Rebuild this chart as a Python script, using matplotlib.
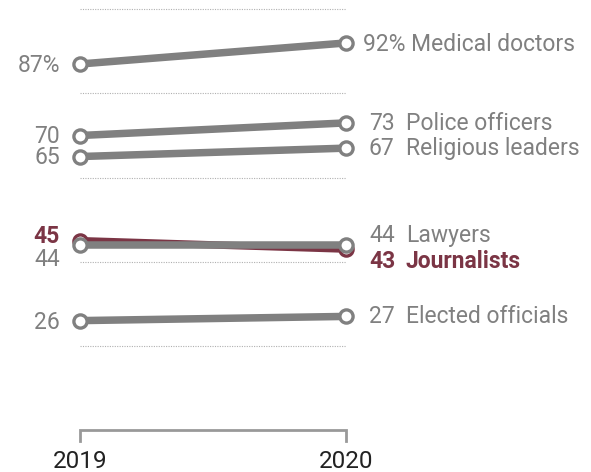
import matplotlib
matplotlib.use("Agg")
import matplotlib.pyplot as plt

# Share of U.S. adults expressing confidence in each group, 2019 vs 2020
years = [2019, 2020]
groups = ["Medical doctors", "Police officers", "Religious leaders",
          "Journalists", "Lawyers", "Elected officials"]
values_2019 = [87, 70, 65, 45, 44, 26]
values_2020 = [92, 73, 67, 43, 44, 27]
highlight = "Journalists"
gridlines = [20, 40, 60, 80, 100]

GRAY = "#808080"
MAROON = "#7b3545"
FONT = "Roboto"
FS = 16.5

W, H = 591, 472
fig = plt.figure(figsize=(W / 100, H / 100), dpi=100)
# axes box in pixels: x 80..346, y 9.3..430 (top-down)
left, right, top, bottom = 80, 346, 9.3, 430
ax = fig.add_axes([left / W, (H - bottom) / H, (right - left) / W, (bottom - top) / H])
ax.set_xlim(years[0], years[1])
ax.set_ylim(0, 100)
ax.axis("off")

for g in gridlines:
    ax.plot(years, [g, g], color="#b0b0b0", lw=0.8, ls=(0, (1, 1.2)),
            clip_on=False, zorder=1)

# baseline bracket
ax.plot([years[0], years[0], years[1], years[1]], [-2.6, 0, 0, -2.6],
        color="#999999", lw=2, solid_joinstyle="miter", clip_on=False, zorder=1)
for yr in years:
    ax.text(yr, -7.4, str(yr), ha="center", va="center", fontsize=17.5,
            color="#222222", family=FONT)

for name, a, b in zip(groups, values_2019, values_2020):
    col = MAROON if name == highlight else GRAY
    z = 2 if name == highlight else 3
    ax.plot(years, [a, b], color=col, lw=5.4, solid_capstyle="butt",
            marker="o", ms=9.5, mfc="white", mec=col, mew=2.4,
            clip_on=False, zorder=z)

# label positions (data units), nudged apart where values are close
left_y = {"Medical doctors": 86.6, "Police officers": 69.7, "Religious leaders": 64.7,
          "Journalists": 45.9, "Lawyers": 40.5, "Elected officials": 25.6}
right_y = {"Medical doctors": 91.6, "Police officers": 72.9, "Religious leaders": 66.9,
           "Journalists": 40.1, "Lawyers": 46.2, "Elected officials": 26.9}

px = (right - left)  # pixels per year
def xoff(px_pos):
    return years[0] + (px_pos - left) / px

for name, a, b in zip(groups, values_2019, values_2020):
    hl = name == highlight
    col = MAROON if hl else GRAY
    wt = "bold" if hl else "normal"
    lab_a = f"{a}%" if name == groups[0] else f"{a}"
    ax.text(xoff(60), left_y[name], lab_a, ha="right", va="center",
            fontsize=FS, color=col, fontweight=wt, family=FONT, clip_on=False)
    if name == groups[0]:
        ax.text(xoff(363), right_y[name], f"{b}% {name}", ha="left", va="center",
                fontsize=FS, color=col, family=FONT, clip_on=False)
    else:
        ax.text(xoff(369), right_y[name], f"{b}", ha="left", va="center",
                fontsize=FS, color=col, fontweight=wt, family=FONT, clip_on=False)
        ax.text(xoff(406), right_y[name], name, ha="left", va="center",
                fontsize=FS, color=col, fontweight=wt, family=FONT, clip_on=False)

fig.savefig("out.png", dpi=100, facecolor="white")
